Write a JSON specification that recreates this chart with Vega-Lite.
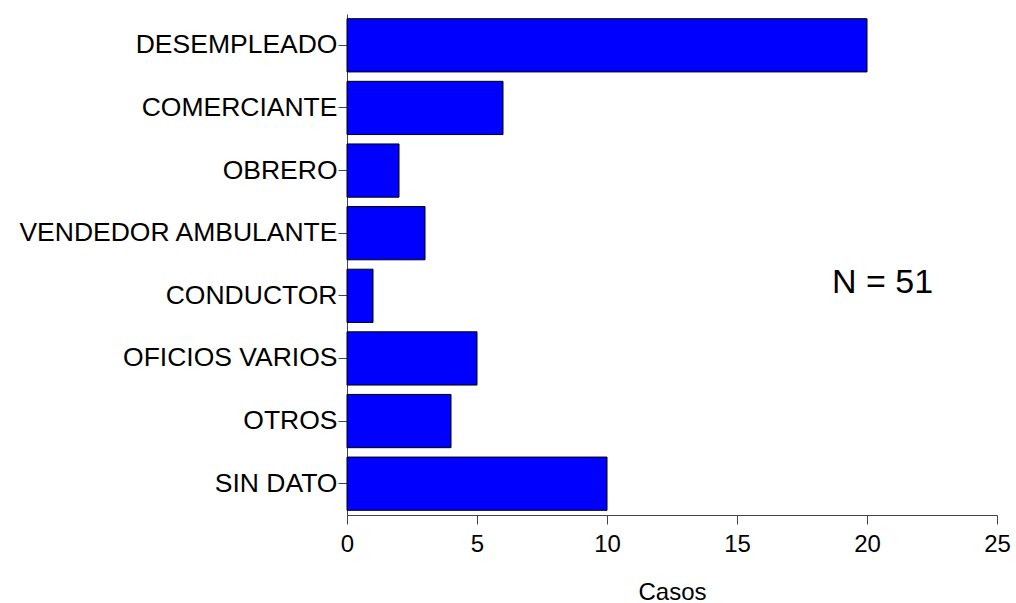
{
  "$schema": "https://vega.github.io/schema/vega-lite/v6.json",
  "autosize": "none",
  "width": 650,
  "height": 501,
  "padding": {"left": 347, "top": 14, "right": 19, "bottom": 88},
  "background": "white",
  "config": {
    "view": {"stroke": null},
    "font": "Liberation Sans",
    "axis": {"grid": false, "labelFont": "Liberation Sans", "titleFont": "Liberation Sans", "labelColor": "black", "titleColor": "black", "domainColor": "#444", "tickColor": "#444"}
  },
  "layer": [
    {
      "data": {
        "values": [
          {"ocupacion": "DESEMPLEADO", "casos": 20},
          {"ocupacion": "COMERCIANTE", "casos": 6},
          {"ocupacion": "OBRERO", "casos": 2},
          {"ocupacion": "VENDEDOR AMBULANTE", "casos": 3},
          {"ocupacion": "CONDUCTOR", "casos": 1},
          {"ocupacion": "OFICIOS VARIOS", "casos": 5},
          {"ocupacion": "OTROS", "casos": 4},
          {"ocupacion": "SIN DATO", "casos": 10}
        ]
      },
      "mark": {"type": "bar", "fill": "#0000FF", "stroke": "black", "strokeWidth": 1},
      "encoding": {
        "y": {
          "field": "ocupacion", "type": "nominal",
          "sort": ["DESEMPLEADO", "COMERCIANTE", "OBRERO", "VENDEDOR AMBULANTE", "CONDUCTOR", "OFICIOS VARIOS", "OTROS", "SIN DATO"],
          "scale": {"paddingInner": 0.15, "paddingOuter": 0.075},
          "axis": {"title": null, "labelFontSize": 26.5, "tickSize": 9, "labelPadding": 1, "domainWidth": 1, "labelLimit": 400}
        },
        "x": {
          "field": "casos", "type": "quantitative",
          "scale": {"domain": [0, 25], "nice": false},
          "axis": {"title": "Casos", "values": [0, 5, 10, 15, 20, 25], "labelFontSize": 24, "titleFontSize": 24, "titleFontWeight": "normal", "tickSize": 9, "labelPadding": 8, "titlePadding": 24, "labelFlush": false}
        }
      }
    },
    {
      "data": {"values": [{"ocupacion": "CONDUCTOR", "casos": 20.6, "texto": "N = 51"}]},
      "mark": {"type": "text", "fontSize": 34, "font": "Liberation Sans", "color": "black", "align": "center", "baseline": "middle", "dy": -13},
      "encoding": {
        "y": {"field": "ocupacion", "type": "nominal",
          "sort": ["DESEMPLEADO", "COMERCIANTE", "OBRERO", "VENDEDOR AMBULANTE", "CONDUCTOR", "OFICIOS VARIOS", "OTROS", "SIN DATO"]},
        "x": {"field": "casos", "type": "quantitative"},
        "text": {"field": "texto"}
      }
    }
  ]
}
